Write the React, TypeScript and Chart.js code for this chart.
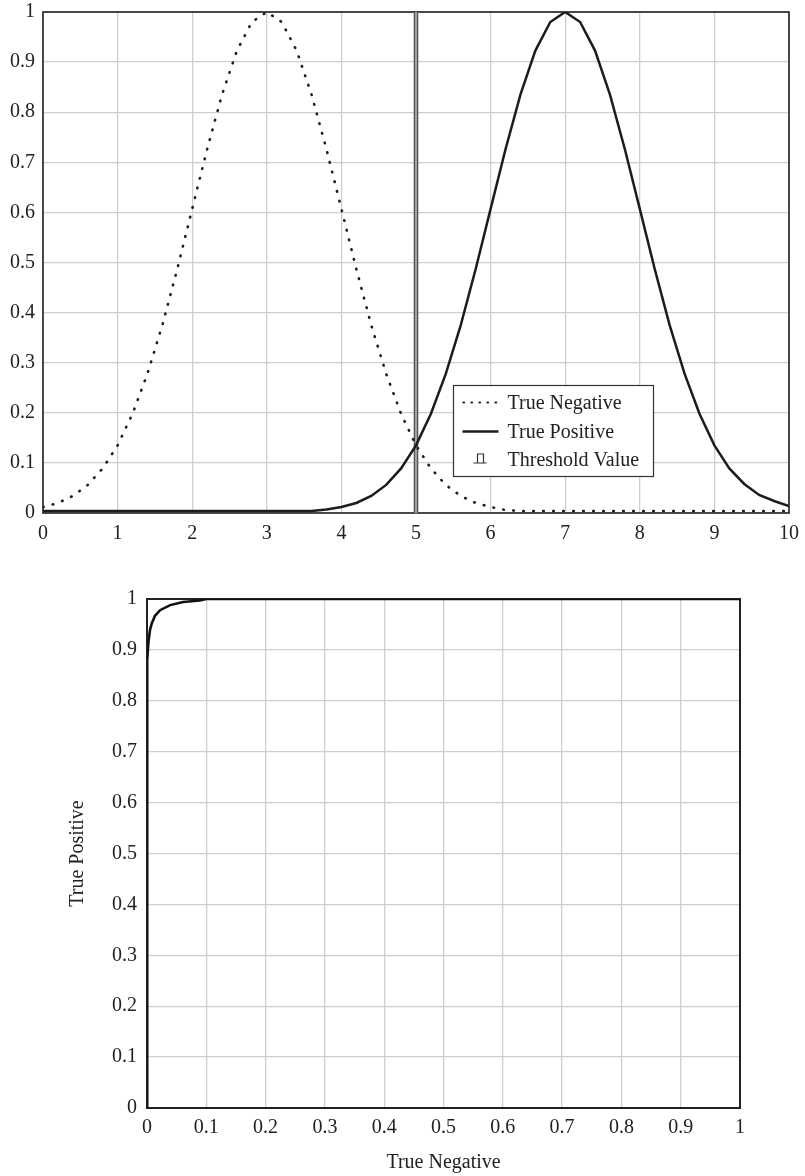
import React, { useEffect, useRef } from "react";
import { Chart, registerables } from "chart.js";

Chart.register(...registerables);

// ---------- Data ----------
const xValues = [
  0, 0.2, 0.4, 0.6, 0.8, 1, 1.2, 1.4, 1.6, 1.8, 2, 2.2, 2.4, 2.6, 2.8, 3, 3.2, 3.4, 3.6, 3.8,
  4, 4.2, 4.4, 4.6, 4.8, 5, 5.2, 5.4, 5.6, 5.8, 6, 6.2, 6.4, 6.6, 6.8, 7, 7.2, 7.4, 7.6, 7.8,
  8, 8.2, 8.4, 8.6, 8.8, 9, 9.2, 9.4, 9.6, 9.8, 10,
];

const trueNegative = [
  0.012, 0.02, 0.034, 0.056, 0.089, 0.135, 0.198, 0.278, 0.375, 0.487, 0.607, 0.726, 0.835,
  0.923, 0.98, 1.0, 0.98, 0.923, 0.835, 0.726, 0.607, 0.487, 0.375, 0.278, 0.198, 0.135, 0.089,
  0.056, 0.034, 0.02, 0.012, 0.006, 0.004, 0.004, 0.004, 0.004, 0.004, 0.004, 0.004, 0.004,
  0.004, 0.004, 0.004, 0.004, 0.004, 0.004, 0.004, 0.004, 0.004, 0.004, 0.004,
];

const truePositive = [
  0.004, 0.004, 0.004, 0.004, 0.004, 0.004, 0.004, 0.004, 0.004, 0.004, 0.004, 0.004, 0.004,
  0.004, 0.004, 0.004, 0.004, 0.004, 0.004, 0.007, 0.012, 0.02, 0.034, 0.056, 0.089, 0.135,
  0.198, 0.278, 0.375, 0.487, 0.607, 0.726, 0.835, 0.923, 0.98, 1.0, 0.98, 0.923, 0.835, 0.726,
  0.607, 0.487, 0.375, 0.278, 0.198, 0.135, 0.089, 0.058, 0.036, 0.024, 0.014,
];

const thresholdX = [5, 5];
const thresholdY = [0, 1];

const legendNames = ["True Negative", "True Positive", "Threshold Value"];

const rocX = [0, 0, 0, 0.001, 0.0025, 0.005, 0.008, 0.0135, 0.022, 0.039, 0.061, 0.089, 0.1, 1];
const rocY = [0, 0.5, 0.8, 0.88, 0.916, 0.939, 0.952, 0.967, 0.978, 0.988, 0.994, 0.997, 1, 1];

const rocXTitle = "True Negative";
const rocYTitle = "True Positive";

// ---------- Styling ----------
const FONT = "'Liberation Serif', 'Times New Roman', Times, serif";
const TEXT = "#222222";
const GRID = "#cfcfcf";
const INK = "#1c1c1c";

const fmt = (v: number | string) => String(Math.round(Number(v) * 10) / 10);

const framePlugin = {
  id: "frame",
  beforeDatasetsDraw(chart: any, _a: any, opts: any) {
    const { ctx, chartArea: a } = chart;
    ctx.save();
    ctx.strokeStyle = "#222";
    ctx.lineWidth = opts.width || 1.6;
    ctx.strokeRect(a.left, a.top, a.right - a.left, a.bottom - a.top);
    ctx.restore();
  },
};

const legendPlugin = {
  id: "boxLegend",
  afterDatasetsDraw(chart: any) {
    const { ctx } = chart;
    const xs = chart.scales.x;
    const left = Math.round(xs.getPixelForValue(5.5)) + 0.5;
    const top = 385.5;
    const w = 200;
    const h = 91;
    ctx.save();
    ctx.fillStyle = "#ffffff";
    ctx.fillRect(left, top, w, h);
    ctx.strokeStyle = "#333";
    ctx.lineWidth = 1.2;
    ctx.strokeRect(left, top, w, h);

    const rows = [top + 17, top + 46, top + 74];
    const sx0 = left + 9;
    const sx1 = left + 45;
    ctx.font = `20px ${FONT}`;
    ctx.fillStyle = TEXT;
    ctx.textBaseline = "middle";
    ctx.textAlign = "left";

    // dotted sample
    ctx.save();
    ctx.strokeStyle = INK;
    ctx.lineWidth = 2.2;
    ctx.lineCap = "round";
    ctx.setLineDash([0.6, 7.4]);
    ctx.beginPath();
    ctx.moveTo(sx0 + 1, rows[0]);
    ctx.lineTo(sx1, rows[0]);
    ctx.stroke();
    ctx.restore();

    // solid sample
    ctx.save();
    ctx.strokeStyle = INK;
    ctx.lineWidth = 2.4;
    ctx.beginPath();
    ctx.moveTo(sx0, rows[1]);
    ctx.lineTo(sx1, rows[1]);
    ctx.stroke();
    ctx.restore();

    // threshold icon
    ctx.save();
    ctx.strokeStyle = "#333";
    ctx.lineWidth = 1.2;
    const cx = (sx0 + sx1) / 2;
    const by = rows[2] + 3.5;
    ctx.beginPath();
    ctx.moveTo(cx - 7, by);
    ctx.lineTo(cx + 6, by);
    ctx.moveTo(cx - 3, by);
    ctx.lineTo(cx - 3, by - 9);
    ctx.lineTo(cx + 3, by - 9);
    ctx.lineTo(cx + 3, by);
    ctx.stroke();
    ctx.restore();

    legendNames.forEach((name, i) => {
      ctx.fillText(name, left + 54, rows[i] + 1);
    });
    ctx.restore();
  },
};

const noPadH = (h: number) => (s: any) => {
  s.height = h;
  s.paddingLeft = 0;
  s.paddingRight = 0;
};
const noPadW = (w: number) => (s: any) => {
  s.width = w;
  s.paddingTop = 0;
  s.paddingBottom = 0;
};

function TopChart() {
  const ref = useRef<HTMLCanvasElement | null>(null);
  useEffect(() => {
    if (!ref.current) return;
    const chart = new Chart(ref.current, {
      type: "scatter",
      data: {
        datasets: [
          {
            label: legendNames[1],
            data: xValues.map((x, i) => ({ x, y: truePositive[i] })),
            showLine: true,
            borderColor: INK,
            borderWidth: 2.5,
            pointRadius: 0,
          },
          {
            label: legendNames[0],
            data: xValues.map((x, i) => ({ x, y: trueNegative[i] })),
            showLine: true,
            borderColor: INK,
            borderWidth: 2.6,
            borderDash: [0.6, 9.4],
            borderCapStyle: "round",
            pointRadius: 0,
          },
          {
            label: legendNames[2] + " inner",
            data: thresholdX.map((x, i) => ({ x, y: thresholdY[i] })),
            showLine: true,
            borderColor: "#c4c4c4",
            borderWidth: 1.4,
            pointRadius: 0,
          },
          {
            label: legendNames[2],
            data: thresholdX.map((x, i) => ({ x, y: thresholdY[i] })),
            showLine: true,
            borderColor: "#555555",
            borderWidth: 4.6,
            pointRadius: 0,
          },
        ],
      } as any,
      options: {
        animation: false,
        responsive: false,
        devicePixelRatio: 1,
        layout: { padding: { left: 0, right: 16, top: 12, bottom: 0 } },
        plugins: { legend: { display: false }, tooltip: { enabled: false }, frame: { width: 1.6 } } as any,
        scales: {
          x: {
            type: "linear",
            min: 0,
            max: 10,
            ticks: {
              stepSize: 1,
              padding: 9,
              color: TEXT,
              font: { family: FONT, size: 20 },
              callback: (v: any) => fmt(v),
            },
            grid: { color: GRID, lineWidth: 1.3, drawTicks: false },
            border: { display: false },
            afterFit: noPadH(47),
          },
          y: {
            type: "linear",
            min: 0,
            max: 1,
            ticks: {
              stepSize: 0.1,
              padding: 8,
              color: TEXT,
              font: { family: FONT, size: 20 },
              callback: (v: any) => fmt(v),
            },
            grid: { color: GRID, lineWidth: 1.3, drawTicks: false },
            border: { display: false },
            afterFit: noPadW(43),
          },
        },
      } as any,
      plugins: [framePlugin, legendPlugin],
    });
    return () => chart.destroy();
  }, []);
  return (
    <canvas
      ref={ref}
      width={805}
      height={560}
      style={{ position: "absolute", left: 0, top: 0, width: 805, height: 560, display: "block" }}
    />
  );
}

function RocChart() {
  const ref = useRef<HTMLCanvasElement | null>(null);
  useEffect(() => {
    if (!ref.current) return;
    const chart = new Chart(ref.current, {
      type: "scatter",
      data: {
        datasets: [
          {
            label: rocYTitle,
            data: rocX.map((x, i) => ({ x, y: rocY[i] })),
            showLine: true,
            borderColor: "#111",
            borderWidth: 2.6,
            pointRadius: 0,
          },
        ],
      } as any,
      options: {
        animation: false,
        responsive: false,
        devicePixelRatio: 1,
        layout: { padding: { left: 60, right: 65, top: 29, bottom: 0 } },
        plugins: { legend: { display: false }, tooltip: { enabled: false }, frame: { width: 2 } } as any,
        scales: {
          x: {
            type: "linear",
            min: 0,
            max: 1,
            ticks: {
              stepSize: 0.1,
              padding: 8,
              color: TEXT,
              font: { family: FONT, size: 20 },
              callback: (v: any) => fmt(v),
            },
            title: {
              display: true,
              text: rocXTitle,
              color: TEXT,
              font: { family: FONT, size: 20 },
              padding: { top: 0, bottom: 1 },
            },
            grid: { color: GRID, lineWidth: 1.3, drawTicks: false },
            border: { display: false },
            afterFit: noPadH(68),
          },
          y: {
            type: "linear",
            min: 0,
            max: 1,
            ticks: {
              stepSize: 0.1,
              padding: 10,
              color: TEXT,
              font: { family: FONT, size: 20 },
              callback: (v: any) => fmt(v),
            },
            title: {
              display: true,
              text: rocYTitle,
              color: TEXT,
              font: { family: FONT, size: 20 },
              padding: { top: 6, bottom: 0 },
            },
            grid: { color: GRID, lineWidth: 1.3, drawTicks: false },
            border: { display: false },
            afterFit: noPadW(87),
          },
        },
      } as any,
      plugins: [framePlugin],
    });
    return () => chart.destroy();
  }, []);
  return (
    <canvas
      ref={ref}
      width={805}
      height={606}
      style={{ position: "absolute", left: 0, top: 570, width: 805, height: 606, display: "block" }}
    />
  );
}

export default function App() {
  return (
    <div
      style={{
        position: "absolute",
        left: 0,
        top: 0,
        width: 805,
        height: 1176,
        background: "#ffffff",
        overflow: "hidden",
      }}
    >
      <TopChart />
      <RocChart />
    </div>
  );
}
